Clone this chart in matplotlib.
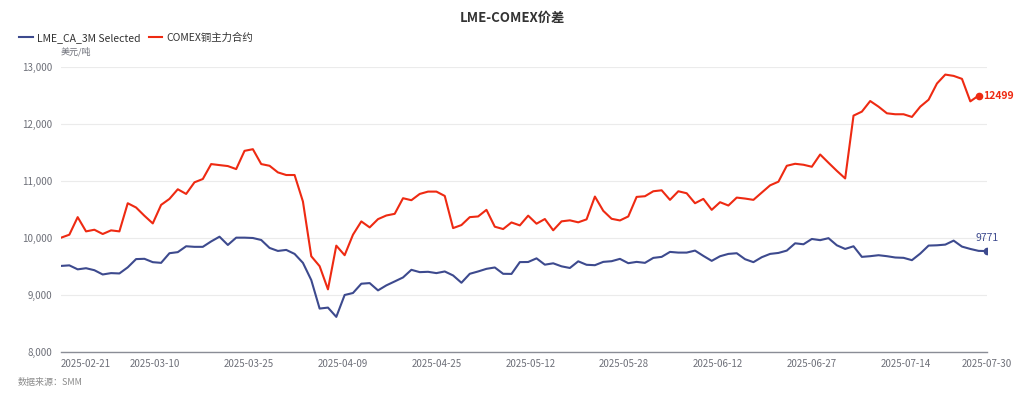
import numpy as np
import matplotlib
matplotlib.use("Agg")
import matplotlib.pyplot as plt

plt.rcParams['font.family'] = ['Noto Sans CJK SC', 'DejaVu Sans']

# values (USD/t), one per trading day
lme = [9510, 9520, 9450, 9470, 9435, 9360, 9384, 9378, 9485, 9630,
       9635, 9576, 9564, 9733, 9752, 9855, 9845, 9845, 9940, 10023,
       9878, 10006, 10006, 10000, 9965, 9826, 9773, 9791, 9721, 9564,
       9262, 8762, 8779, 8616, 9000, 9035, 9198, 9209, 9081, 9169,
       9238, 9308, 9442, 9401, 9407, 9384, 9413, 9343, 9215, 9372,
       9413, 9459, 9483, 9372, 9370, 9577, 9579, 9643, 9532, 9556,
       9503, 9474, 9591, 9530, 9523, 9581, 9593, 9634, 9558, 9581,
       9564, 9651, 9669, 9756, 9744, 9744, 9779, 9686, 9599, 9680,
       9721, 9733, 9628, 9576, 9663, 9721, 9738, 9779, 9907, 9890,
       9983, 9962, 9997, 9872, 9808, 9855, 9669, 9681, 9698, 9681,
       9658, 9652, 9611, 9727, 9867, 9872, 9884, 9954, 9849, 9808,
       9774, 9771]

comex = [10005, 10058, 10366, 10116, 10145, 10070, 10134, 10116, 10610, 10535,
         10390, 10256, 10581, 10686, 10855, 10773, 10977, 11035, 11297, 11279,
         11262, 11209, 11529, 11558, 11297, 11267, 11151, 11105, 11105, 10640,
         9680, 9506, 9099, 9866, 9698, 10058, 10291, 10186, 10331, 10395,
         10424, 10698, 10663, 10773, 10814, 10814, 10738, 10174, 10227, 10366,
         10378, 10494, 10198, 10157, 10273, 10221, 10392, 10251, 10333, 10135,
         10292, 10310, 10275, 10327, 10727, 10477, 10337, 10308, 10378, 10721,
         10733, 10820, 10837, 10669, 10820, 10785, 10610, 10686, 10494, 10628,
         10570, 10709, 10692, 10669, 10797, 10924, 10988, 11267, 11302, 11285,
         11250, 11465, 11320, 11178, 11045, 12147, 12217, 12403, 12304, 12188,
         12171, 12171, 12124, 12304, 12426, 12710, 12867, 12844, 12792, 12397,
         12499]

date_labels = ["2025-02-21", "2025-03-10", "2025-03-25", "2025-04-09", "2025-04-25",
               "2025-05-12", "2025-05-28", "2025-06-12", "2025-06-27", "2025-07-14",
               "2025-07-30"]

blue = "#3d4a8e"
red = "#ee2a12"
grey = "#6e7079"

fig = plt.figure(figsize=(10.24, 3.99), dpi=100)
ax = fig.add_axes([61 / 1024, 47 / 399, 926 / 1024, 285 / 399])

x_lme = np.arange(len(lme))
x_cmx = np.arange(len(comex))
l1, = ax.plot(x_lme, lme, color=blue, lw=1.5, label="LME_CA_3M Selected")
l2, = ax.plot(x_cmx, comex, color=red, lw=1.5, label="COMEX铜主力合约")

# end markers and labels
ax.plot(x_lme[-1], lme[-1], "o", color=blue, ms=4.5)
ax.annotate(str(lme[-1]), (x_lme[-1], lme[-1]), xytext=(0, 6), textcoords="offset points",
            ha="center", va="bottom", fontsize=7.5, color=blue)
ax.plot(x_cmx[-1], comex[-1], "o", color=red, ms=4.5)
ax.annotate(str(comex[-1]), (x_cmx[-1], comex[-1]), xytext=(3, 0), textcoords="offset points",
            ha="left", va="center", fontsize=7.5, color=red, fontweight="bold")

ax.set_xlim(0, len(lme) - 1)
ax.set_ylim(8000, 13000)
ax.set_yticks([8000, 9000, 10000, 11000, 12000, 13000])
ax.set_yticklabels([f"{v:,}" for v in ax.get_yticks().astype(int)])
tick_pos = [11.25 * k for k in range(len(date_labels) - 1)] + [len(lme) - 1]
ax.set_xticks(tick_pos)
ax.set_xticklabels(date_labels)
ax.get_xticklabels()[0].set_ha("left")
ax.tick_params(axis="both", length=0, labelsize=7, colors=grey)
ax.tick_params(axis="x", pad=5)
ax.tick_params(axis="y", pad=6)

ax.grid(axis="y", color="#ebebeb", lw=0.8)
ax.set_axisbelow(True)
for s in ["top", "right", "left"]:
    ax.spines[s].set_visible(False)
ax.spines["bottom"].set_color("#8a8d96")
ax.spines["bottom"].set_linewidth(1.0)

fig.text(0.5, 1 - 18 / 399, "LME-COMEX价差", ha="center", va="center",
         fontsize=9.5, fontweight="bold", color="#333333")
fig.text(61 / 1024, 1 - 52 / 399, "美元/吨", ha="left", va="center", fontsize=6.5, color=grey)
fig.text(18 / 1024, 1 - 382 / 399, "数据来源：SMM", ha="left", va="center", fontsize=6.5,
         color="#8c8c8c", style="italic")

fig.legend(handles=[l1, l2], loc="center left", bbox_to_anchor=(10 / 1024, 1 - 38 / 399),
           ncol=2, frameon=False, fontsize=7.5, handlelength=1.3, handletextpad=0.4,
           columnspacing=0.8, labelcolor="#333333")

fig.savefig("out.png", dpi=100)
